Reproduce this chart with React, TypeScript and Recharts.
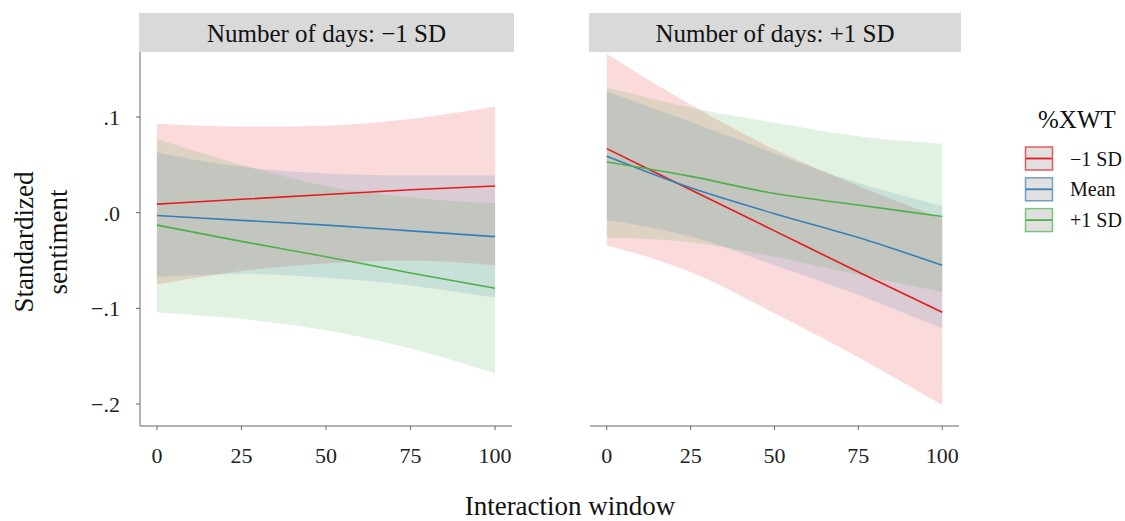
import { ComposedChart, Area, Line, XAxis, YAxis } from 'recharts';

const FONT = '"Liberation Serif", "DejaVu Serif", serif';
const RED = '#E41A1C';
const BLUE = '#377EB8';
const GREEN = '#4DAF4A';

// interaction window positions
const xs = [0, 25, 50, 75, 100];
const xTicks = [0, 25, 50, 75, 100];
const yTicks = [-0.2, -0.1, 0, 0.1];

// panel: Number of days −1 SD
const lowRedFit = [0.009, 0.014, 0.019, 0.024, 0.028];
const lowRedLo = [-0.075, -0.061, -0.053, -0.05, -0.055];
const lowRedHi = [0.093, 0.09, 0.091, 0.098, 0.111];
const lowBlueFit = [-0.003, -0.008, -0.013, -0.019, -0.025];
const lowBlueLo = [-0.067, -0.064, -0.068, -0.076, -0.089];
const lowBlueHi = [0.063, 0.048, 0.041, 0.039, 0.039];
const lowGreenFit = [-0.013, -0.03, -0.046, -0.063, -0.079];
const lowGreenLo = [-0.104, -0.111, -0.123, -0.142, -0.168];
const lowGreenHi = [0.077, 0.05, 0.028, 0.016, 0.01];

// panel: Number of days +1 SD
const highRedFit = [0.067, 0.024, -0.019, -0.062, -0.104];
const highRedLo = [-0.034, -0.062, -0.105, -0.151, -0.201];
const highRedHi = [0.166, 0.113, 0.066, 0.028, -0.006];
const highBlueFit = [0.059, 0.026, -0.001, -0.026, -0.055];
const highBlueLo = [-0.008, -0.025, -0.055, -0.086, -0.121];
const highBlueHi = [0.127, 0.095, 0.062, 0.031, 0.007];
const highGreenFit = [0.053, 0.038, 0.02, 0.008, -0.004];
const highGreenLo = [-0.026, -0.031, -0.046, -0.065, -0.083];
const highGreenHi = [0.131, 0.11, 0.094, 0.08, 0.072];

const legendItems = [
  { label: '\u22121 SD', color: RED },
  { label: 'Mean', color: BLUE },
  { label: '+1 SD', color: GREEN },
];

const buildRows = (rf: number[], rl: number[], rh: number[], bf: number[], bl: number[], bh: number[], gf: number[], gl: number[], gh: number[]) =>
  xs.map((x, i) => ({
    x,
    redFit: rf[i],
    redBand: [rl[i], rh[i]],
    blueFit: bf[i],
    blueBand: [bl[i], bh[i]],
    greenFit: gf[i],
    greenBand: [gl[i], gh[i]],
  }));

const lowRows = buildRows(lowRedFit, lowRedLo, lowRedHi, lowBlueFit, lowBlueLo, lowBlueHi, lowGreenFit, lowGreenLo, lowGreenHi);
const highRows = buildRows(highRedFit, highRedLo, highRedHi, highBlueFit, highBlueLo, highBlueHi, highGreenFit, highGreenLo, highGreenHi);

const fmtY = (v: number) => {
  if (Math.abs(v) < 1e-9) return '.0';
  return (v < 0 ? '\u2212' : '') + '.' + Math.round(Math.abs(v) * 10);
};

const tickStyle = { fontSize: 22, fill: '#222', fontFamily: FONT, style: { fontFamily: FONT } };
const txt = { fontFamily: FONT };

const Panel = ({ rows, left, width, marginLeft, marginRight, showY }: any) => (
  <div style={{ position: 'absolute', left, top: 0, fontFamily: FONT }}>
    <ComposedChart width={width} height={521} data={rows} margin={{ top: 52, right: marginRight, bottom: 0, left: marginLeft }}>
      <XAxis
        dataKey="x"
        type="number"
        domain={[-5, 105]}
        ticks={xTicks}
        allowDataOverflow
        height={95}
        stroke="#666"
        tickSize={4}
        tickMargin={17}
        tick={tickStyle}
      />
      <YAxis
        type="number"
        domain={[-0.223, 0.168]}
        ticks={yTicks}
        allowDataOverflow
        hide={!showY}
        width={140}
        stroke="#666"
        tickSize={4}
        tickMargin={16}
        tickFormatter={fmtY}
        tick={tickStyle}
      />
      <Area dataKey="redBand" type="monotone" fill={RED} fillOpacity={0.16} stroke="none" isAnimationActive={false} activeDot={false} />
      <Area dataKey="blueBand" type="monotone" fill={BLUE} fillOpacity={0.16} stroke="none" isAnimationActive={false} activeDot={false} />
      <Area dataKey="greenBand" type="monotone" fill={GREEN} fillOpacity={0.16} stroke="none" isAnimationActive={false} activeDot={false} />
      <Line dataKey="redFit" type="monotone" stroke={RED} strokeWidth={1.6} dot={false} activeDot={false} isAnimationActive={false} />
      <Line dataKey="blueFit" type="monotone" stroke={BLUE} strokeWidth={1.6} dot={false} activeDot={false} isAnimationActive={false} />
      <Line dataKey="greenFit" type="monotone" stroke={GREEN} strokeWidth={1.6} dot={false} activeDot={false} isAnimationActive={false} />
    </ComposedChart>
  </div>
);

export default function App() {
  return (
    <div style={{ position: 'absolute', left: 0, top: 0, width: 1125, height: 521, background: '#fff', overflow: 'hidden', fontFamily: FONT }}>
      <Panel rows={lowRows} left={0} width={520} marginLeft={0} marginRight={8} showY />
      <Panel rows={highRows} left={540} width={430} marginLeft={50} marginRight={11} showY={false} />
      <svg width={1125} height={521} style={{ position: 'absolute', left: 0, top: 0, pointerEvents: 'none', fontFamily: FONT }}>
        <rect x={139} y={13} width={375} height={39} fill="#d9d9d9" />
        <text x={326.5} y={41.5} fontSize={25} textAnchor="middle" fill="#111" style={txt}>Number of days: {'\u2212'}1 SD</text>
        <rect x={589} y={13} width={372} height={39} fill="#d9d9d9" />
        <text x={775} y={41.5} fontSize={25} textAnchor="middle" fill="#111" style={txt}>Number of days: +1 SD</text>

        <text x={570} y={515} fontSize={27} textAnchor="middle" fill="#111" style={txt}>Interaction window</text>
        <text x={33} y={242} fontSize={27} textAnchor="middle" fill="#111" style={txt} transform="rotate(-90, 33, 242)">Standardized</text>
        <text x={67} y={242} fontSize={27} textAnchor="middle" fill="#111" style={txt} transform="rotate(-90, 67, 242)">sentiment</text>

        <text x={1038} y={128} fontSize={25} fill="#111" style={txt}>%XWT</text>
        {legendItems.map((item, i) => {
          const y = 147 + i * 30.8;
          return (
            <g key={item.label}>
              <rect x={1025.5} y={y} width={27} height={23} fill="#e0e0e0" stroke={item.color} strokeOpacity={0.7} strokeWidth={1.5} />
              <line x1={1026} x2={1052} y1={y + 11.5} y2={y + 11.5} stroke={item.color} strokeWidth={1.8} />
              <text x={1070} y={y + 18.5} fontSize={20} fill="#111" style={txt}>{item.label}</text>
            </g>
          );
        })}
      </svg>
    </div>
  );
}
